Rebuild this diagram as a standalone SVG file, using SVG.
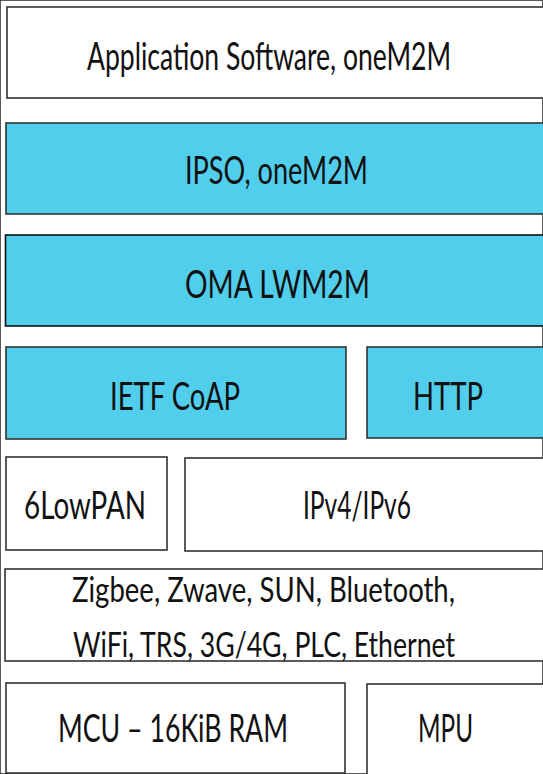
<svg xmlns="http://www.w3.org/2000/svg" width="543" height="774" viewBox="0 0 543 774">
<style>
rect { stroke: #333333; stroke-width: 1.6; }
.w { fill: #ffffff; }
.b { fill: #52ceed; }
text { font-family: Lato, "Open Sans", "DejaVu Sans", sans-serif; font-size: 39px; fill: #111111; }
.s { font-size: 35px; }
</style>
<rect x="0" y="0" width="543" height="774" fill="#ffffff" stroke="none"/>
<g id="app">
<rect class="w" x="7" y="7" width="538" height="91"/>
<text transform="translate(87,70) scale(0.72,1)" textLength="505.6" lengthAdjust="spacingAndGlyphs">Application Software, oneM2M</text>
</g>
<g id="ipso">
<rect class="b" x="6" y="123" width="539" height="91"/>
<text transform="translate(185,184) scale(0.72,1)" textLength="254.2" lengthAdjust="spacingAndGlyphs">IPSO, oneM2M</text>
</g>
<g id="oma">
<rect class="b" x="5.5" y="235" width="539.5" height="91" style="stroke:#111"/>
<text transform="translate(185,298) scale(0.72,1)" textLength="256.9" lengthAdjust="spacingAndGlyphs">OMA LWM2M</text>
</g>
<g id="coap">
<rect class="b" x="6" y="347" width="340" height="92"/>
<text transform="translate(110,410) scale(0.72,1)" textLength="180.6" lengthAdjust="spacingAndGlyphs">IETF CoAP</text>
</g>
<g id="http">
<rect class="b" x="367" y="347" width="178" height="91"/>
<text transform="translate(413,410) scale(0.72,1)" textLength="97.2" lengthAdjust="spacingAndGlyphs">HTTP</text>
</g>
<g id="sixlowpan">
<rect class="w" x="6" y="457" width="161" height="93"/>
<text transform="translate(24,519) scale(0.72,1)" textLength="169.4" lengthAdjust="spacingAndGlyphs">6LowPAN</text>
</g>
<g id="ipv4v6">
<rect class="w" x="185" y="458" width="360" height="93"/>
<text transform="translate(303,519) scale(0.72,1)" textLength="150" lengthAdjust="spacingAndGlyphs">IPv4/IPv6</text>
</g>
<g id="links">
<rect class="w" x="5" y="569" width="540" height="92"/>
<text class="s" transform="translate(72,602) scale(0.72,1)" textLength="531.9" lengthAdjust="spacingAndGlyphs">Zigbee, Zwave, SUN, Bluetooth,</text>
<text class="s" transform="translate(73,657) scale(0.72,1)" textLength="530.6" lengthAdjust="spacingAndGlyphs">WiFi, TRS, 3G/4G, PLC, Ethernet</text>
</g>
<g id="mcu">
<rect class="w" x="6" y="683" width="339" height="90"/>
<text transform="translate(58,742) scale(0.72,1)" textLength="319.4" lengthAdjust="spacingAndGlyphs">MCU – 16KiB RAM</text>
</g>
<g id="mpu">
<rect class="w" x="367" y="684" width="178" height="95"/>
<text transform="translate(418,742) scale(0.72,1)" textLength="76.4" lengthAdjust="spacingAndGlyphs">MPU</text>
</g>
<g id="connectors"></g>
</svg>
